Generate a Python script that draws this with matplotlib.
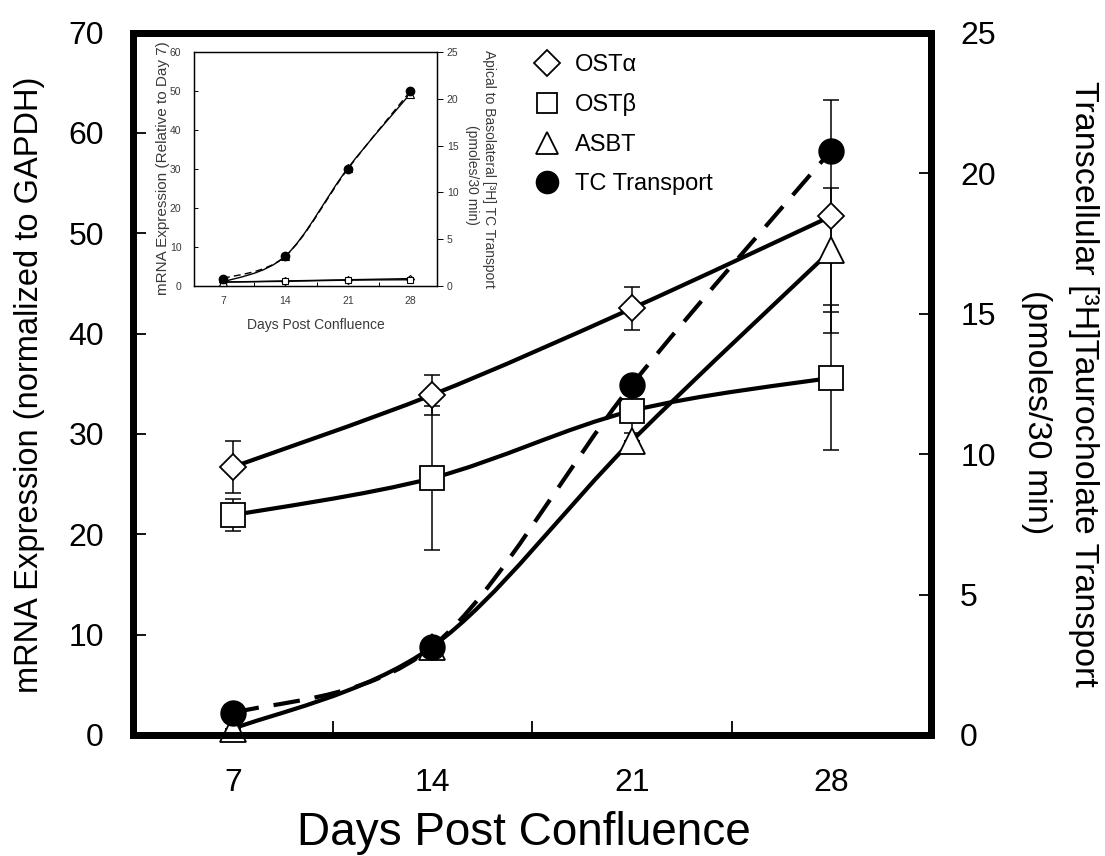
import numpy as np
import matplotlib
matplotlib.use("Agg")
import matplotlib.pyplot as plt
from matplotlib.path import Path
from matplotlib.patches import PathPatch
from matplotlib.lines import Line2D

plt.rcParams['font.family'] = ['Liberation Sans', 'DejaVu Sans']

# main panel data (mRNA normalized to GAPDH, left axis; TC transport, right axis)
days = [7, 14, 21, 28]
ost_alpha = [26.7, 33.9, 42.5, 51.7]
ost_alpha_err = [2.6, 2.0, 2.1, 11.6]
ost_beta = [21.9, 25.6, 32.3, 35.6]
ost_beta_err = [1.6, 7.2, 2.2, 7.2]
asbt = [0.6, 8.8, 29.3, 48.3]
asbt_err = [0.0, 0.0, 0.0, 6.2]
tc_transport = [0.77, 3.14, 12.46, 20.8]

# inset data (mRNA relative to day 7, left axis; TC transport, right axis)
ins_ost_alpha = [1.0, 1.3, 1.6, 1.9]
ins_ost_beta = [1.0, 1.2, 1.5, 1.6]
ins_asbt = [1.0, 7.7, 30.2, 49.3]
ins_tc = [0.8, 3.2, 12.5, 20.8]


def smooth_path(xs, ys):
    # catmull-rom through the points, as cubic bezier segments
    pts = np.column_stack([xs, ys]).astype(float)
    n = len(pts)
    verts = [pts[0]]
    codes = [Path.MOVETO]
    for i in range(n - 1):
        p0 = pts[i - 1] if i > 0 else pts[i]
        p1 = pts[i]
        p2 = pts[i + 1]
        p3 = pts[i + 2] if i + 2 < n else pts[i + 1]
        verts += [p1 + (p2 - p0) / 6, p2 - (p3 - p1) / 6, p2]
        codes += [Path.CURVE4] * 3
    return Path(verts, codes)


def add_curve(ax, xs, ys, lw, ls='-', z=2):
    ax.add_patch(PathPatch(smooth_path(xs, ys), fill=False, ec='black',
                           lw=lw, ls=ls, zorder=z, clip_on=False))


fig = plt.figure(figsize=(11.05, 8.56), dpi=100)
ax = fig.add_axes([133/1105, 121/856, 798/1105, 702.5/856])
ax.set_xlim(3.5, 31.5)
ax.set_ylim(0, 70)

add_curve(ax, days, ost_alpha, 3)
add_curve(ax, days, ost_beta, 3)
add_curve(ax, days, asbt, 3)

ebar = dict(fmt='none', ecolor='black', elinewidth=1.1, capsize=5.8, capthick=1.1, zorder=3)
ax.errorbar(days, ost_alpha, yerr=ost_alpha_err, **ebar)
ax.errorbar(days, ost_beta, yerr=ost_beta_err, **ebar)
ax.errorbar(days, asbt, yerr=asbt_err, **ebar)

mk = dict(ls='none', mfc='white', mec='black', mew=1.3, zorder=4, clip_on=False)
ax.plot(days, ost_alpha, marker='D', ms=13, **mk)
ax.plot(days, ost_beta, marker='s', ms=17, **mk)
ax.plot(days, asbt, marker='^', ms=18.5, **mk)

ax.set_xticks(days)
ax.set_xticks([10.5, 17.5, 24.5], minor=True)
ax.set_yticks(range(0, 71, 10))
ax.tick_params(axis='x', which='major', length=0, pad=24, labelsize=23)
ax.tick_params(axis='x', which='minor', direction='in', length=10, width=1.3)
ax.tick_params(axis='y', direction='in', length=9, width=1.3, pad=21, labelsize=23)

ax2 = ax.twinx()
ax2.set_ylim(0, 25)
ax2.set_yticks(range(0, 26, 5))
ax2.tick_params(axis='y', direction='in', length=9, width=1.3, pad=21, labelsize=23)
add_curve(ax2, days, tc_transport, 3, ls=(0, (6.4, 3.6)))
ax2.plot(days, tc_transport, marker='o', ms=18, ls='none', mfc='black',
         mec='black', zorder=5, clip_on=False)

for a in (ax, ax2):
    for s in a.spines.values():
        s.set_linewidth(5)

ax.text(-0.1303, 0.498, 'mRNA Expression (normalized to GAPDH)', transform=ax.transAxes,
        rotation=90, ha='center', va='center', fontsize=23.5)
ax.text(0.49, -0.1395, 'Days Post Confluence', transform=ax.transAxes,
        ha='center', va='center', fontsize=33)
ax.text(1.1905, 0.50, 'Transcellular [\u00b3H]Taurocholate Transport', transform=ax.transAxes,
        rotation=270, ha='center', va='center', fontsize=24.5)
ax.text(1.1328, 0.46, '(pmoles/30 min)', transform=ax.transAxes,
        rotation=270, ha='center', va='center', fontsize=24.5)

handles = [
    Line2D([], [], marker='D', ms=13, ls='none', mfc='white', mec='black', mew=1.3),
    Line2D([], [], marker='s', ms=15, ls='none', mfc='white', mec='black', mew=1.3),
    Line2D([], [], marker='^', ms=16.5, ls='none', mfc='white', mec='black', mew=1.3),
    Line2D([], [], marker='o', ms=16, ls='none', mfc='black', mec='black'),
]
labels = ['OST\u03b1', 'OST\u03b2', 'ASBT', 'TC Transport']
ax2.legend(handles, labels, loc='upper left', bbox_to_anchor=(532.8/1105, (856-54)/856),
           bbox_transform=fig.transFigure, frameon=False, fontsize=17,
           handlelength=1.2, handletextpad=0.59, labelspacing=0.74,
           borderpad=0, borderaxespad=0)

# inset
gray = '#3a3a3a'
ins = fig.add_axes([194/1105, (856-286)/856, 243/1105, 234/856])
ins.set_facecolor('white')
ins.set_xlim(3.75, 31)
ins.set_ylim(0, 60)
add_curve(ins, days, ins_ost_alpha, 1.0, z=2)
add_curve(ins, days, ins_ost_beta, 1.0, z=2)
add_curve(ins, days, ins_asbt, 1.0, z=2)
imk = dict(ls='none', mfc='white', mec='black', mew=0.8, zorder=4, clip_on=False)
ins.plot(days, ins_ost_alpha, marker='D', ms=4.2, **imk)
ins.plot(days, ins_ost_beta, marker='s', ms=5, **imk)
ins.plot(days, ins_asbt, marker='^', ms=5.5, **imk)
ins.set_xticks(days)
ins.set_xticks([10.5, 17.5, 24.5], minor=True)
ins.set_yticks(range(0, 61, 10))
ins.tick_params(axis='x', which='major', length=0, pad=7, labelsize=7.5, labelcolor=gray)
ins.tick_params(axis='x', which='minor', direction='in', length=3, width=0.7)
ins.tick_params(axis='y', direction='in', length=3, width=0.7, pad=9, labelsize=7.5, labelcolor=gray)

ins2 = ins.twinx()
ins2.set_ylim(0, 25)
ins2.set_yticks(range(0, 26, 5))
ins2.tick_params(axis='y', direction='out', length=4, width=0.7, pad=3, labelsize=7.5, labelcolor=gray)
add_curve(ins2, days, ins_tc, 1.0, ls=(0, (5, 3)), z=3)
ins2.plot(days, ins_tc, marker='o', ms=6, ls='none', mfc='black', mec='black',
          zorder=5, clip_on=False)
for a in (ins, ins2):
    for s in a.spines.values():
        s.set_linewidth(0.9)

ins.text(0.5, -0.167, 'Days Post Confluence', transform=ins.transAxes,
         ha='center', va='center', fontsize=10, color=gray)
ins.text(-0.128, 0.504, 'mRNA Expression (Relative to Day 7)', transform=ins.transAxes,
         rotation=90, ha='center', va='center', fontsize=11, color=gray)
ins.text(1.214, 0.5, 'Apical to Basolateral [\u00b3H] TC Transport', transform=ins.transAxes,
         rotation=270, ha='center', va='center', fontsize=10, color=gray)
ins.text(1.144, 0.474, '(pmoles/30 min)', transform=ins.transAxes,
         rotation=270, ha='center', va='center', fontsize=10, color=gray)

fig.savefig("out.png", dpi=100)
